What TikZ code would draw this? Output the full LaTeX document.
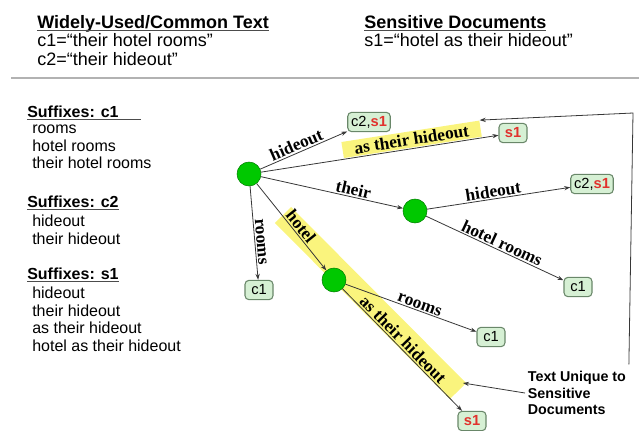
\documentclass[tikz,border=0pt]{standalone}
\usepackage{fontspec}
\setmainfont{Liberation Sans}
\newfontfamily\tms{Liberation Serif}
\usetikzlibrary{calc,positioning,arrows.meta}

\definecolor{leaffill}{RGB}{214,240,212}
\definecolor{leafline}{RGB}{105,135,105}
\definecolor{hl}{RGB}{250,244,125}
\definecolor{sred}{RGB}{225,50,45}
\definecolor{hubgreen}{RGB}{0,200,0}
\definecolor{edgegray}{RGB}{55,55,55}

\newcommand\redsone{\textbf{\color{sred}s1}}
\newlength\hdlen
\newcommand\hdul[1]{\settowidth\hdlen{#1}\rlap{#1}{\color{black!70}\rule[-2pt]{\hdlen}{0.9pt}}}

\begin{document}
\begin{tikzpicture}[x=0.75pt, y=-0.75pt, >={Stealth[length=4.5pt,width=3.2pt]}]

\tikzstyle{head}=[inner sep=0, align=left, font=\fontsize{13.5}{14}\selectfont]
\tikzstyle{sfx}=[inner sep=0, anchor=west, font=\bfseries\fontsize{12}{13.5}\selectfont]
\tikzstyle{list}=[inner sep=0, anchor=north west, align=left, font=\fontsize{12}{13.3}\selectfont]
\tikzstyle{hub}=[circle, fill=hubgreen, draw=green!50!black, minimum size=18pt, inner sep=0]
\tikzstyle{leaf}=[draw=leafline, fill=leaffill, rounded corners=3pt, thick, minimum width=21pt, minimum height=14.5pt, inner xsep=2.5pt, inner ysep=1pt, font=\fontsize{11}{12}\selectfont]
\tikzstyle{cr}=[draw=edgegray, line width=0.6pt]
\tikzstyle{lbl}=[sloped, above, inner sep=1pt, font=\tms\bfseries\fontsize{13}{14}\selectfont]
\tikzstyle{band}=[draw=hl, line width=17pt]

\useasboundingbox (0,0) rectangle (639,430);

% header
\node(W1)[style=head, anchor=north west] at (37,15) {\hdul{\textbf{Widely-Used/Common Text}}\\c1=``their hotel rooms''\\c2=``their hideout''};
\node(S1)[style=head, anchor=north west] at (364,15) {\hdul{\textbf{Sensitive Documents}}\\s1=``hotel as their hideout''};
\draw[gray!60, line width=1.5pt] (11,78) -- (639,78);

% suffix lists
\node(L1)[style=sfx] at (27,113) {\hdul{Suffixes: c1\hspace*{17pt}}};
\node(L1t)[style=list] at ($(L1.south west)+(5,4)$) {rooms\\hotel rooms\\their hotel rooms};

\node(L2)[style=sfx] at (27,203) {\hdul{Suffixes: c2}};
\node(L2t)[style=list] at ($(L2.south west)+(5,4)$) {hideout\\their hideout};

\node(L3)[style=sfx] at (27,275) {\hdul{Suffixes: s1}};
\node(L3t)[style=list] at ($(L3.south west)+(5,4)$) {hideout\\their hideout\\as their hideout\\hotel as their hideout};

% highlight along hotel / as their hideout
\coordinate(H2a) at (283,215);
\coordinate(H2b) at (458,391);
\draw[style=band] (H2a) -- (H2b);

% tree
\node(R0)[style=hub] at (249,174) {};
\node(R1)[style=hub] at (415,211) {};
\node(R2)[style=hub] at (334,280) {};

\node(C2a)[style=leaf] at (369,122) {c2,\redsone};
\node(S1a)[style=leaf] at (513,133) {\redsone};
\node(C2b)[style=leaf] at (592,184) {c2,\redsone};
\node(C1a)[style=leaf] at (259,290) {c1};
\node(C1b)[style=leaf] at (578,287) {c1};
\node(C1c)[style=leaf] at (491,337) {c1};
\node(S1b)[style=leaf] at (472,421) {\redsone};

% arrows
\draw[->, style=cr] (R0) -- node[style=lbl, pos=0.45]{hideout} (C2a);
\draw[->, style=cr] (R0) -- node(HL1)[style=lbl, above=0.6pt, fill=hl, inner xsep=9pt, inner ysep=1.5pt, pos=0.64]{as their hideout} (S1a);
\draw[->, style=cr] (R0) -- node[style=lbl, pos=0.64]{their} (R1);
\draw[->, style=cr] (R0) -- node[style=lbl, pos=0.6]{rooms} (C1a);
\draw[->, style=cr] (R0) -- node[style=lbl, pos=0.55]{hotel} (R2);

\draw[->, style=cr] (R1) -- node[style=lbl, pos=0.47]{hideout} (C2b);
\draw[->, style=cr] (R1) -- node[style=lbl, pos=0.53]{hotel rooms} (C1b);

\draw[->, style=cr] (R2) -- node[style=lbl, pos=0.55]{rooms} (C1c);
\draw[->, style=cr] (R2) -- node[style=lbl, pos=0.46]{as their hideout} (S1b);

% note
\node(U1)[inner sep=2pt, anchor=west, align=left, font=\bfseries\fontsize{10.7}{12.4}\selectfont] at (525,393) {Text Unique to\\Sensitive\\Documents};
\coordinate(B1) at (463,383);
\coordinate(K1) at (633,113);

\draw[->, style=cr] (U1.west) -- (B1);
\draw[->, style=cr] ([yshift=3pt]U1.north east) -- (K1) -- (HL1.north east);

\end{tikzpicture}
\end{document}
